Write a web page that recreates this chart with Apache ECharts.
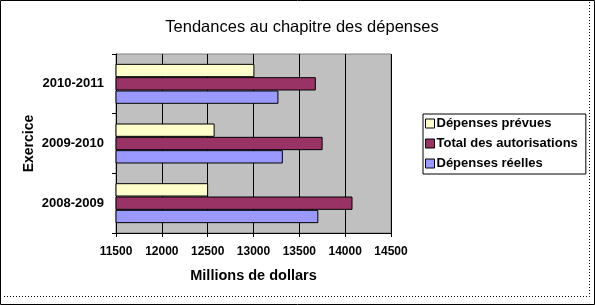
<!DOCTYPE html>
<html>
<head>
<meta charset="utf-8">
<script src="https://cdn.jsdelivr.net/npm/echarts@6/dist/echarts.min.js"></script>
<style>
  html, body { margin: 0; padding: 0; background: #fff; }
  #chart { width: 595px; height: 305px; }
</style>
</head>
<body>
<div id="chart"></div>
<script>
// données du graphique
var exercices = ['2008-2009', '2009-2010', '2010-2011'];
var depensesPrevues = [12505, 12576, 13010];
var totalAutorisations = [14080, 13754, 13680];
var depensesReelles = [13707, 13320, 13272];
var xTicks = [11500, 12000, 12500, 13000, 13500, 14000, 14500];

var myChart = echarts.init(document.getElementById('chart'));
var police = '"Liberation Sans", Arial, sans-serif';

var option = {
    backgroundColor: '#ffffff',
    animation: false,
    title: {
        text: 'Tendances au chapitre des dépenses',
        left: 297,
        top: 14,
        textAlign: 'center',
        textStyle: { fontFamily: police, fontSize: 16.5, fontWeight: 'normal', color: '#000' }
    },
    legend: {
        orient: 'vertical',
        left: 423,
        top: 114,
        padding: [3, 8, 4, 2],
        itemGap: 7,
        itemWidth: 9,
        itemHeight: 9,
        borderColor: '#000',
        borderWidth: 1,
        borderRadius: 0,
        icon: 'rect',
        data: ['Dépenses prévues', 'Total des autorisations', 'Dépenses réelles'],
        textStyle: { fontFamily: police, fontSize: 13, fontWeight: 'bold', color: '#000', padding: [0, 0, 0, -3] },
        itemStyle: { borderColor: '#000', borderWidth: 1 }
    },
    grid: {
        left: 116,
        top: 54,
        width: 275,
        height: 179,
        show: true,
        backgroundColor: '#c0c0c0',
        borderColor: '#808080',
        borderWidth: 1
    },
    xAxis: {
        type: 'value',
        min: xTicks[0],
        max: xTicks[xTicks.length - 1],
        interval: 500,
        name: 'Millions de dollars',
        nameLocation: 'middle',
        nameGap: 35,
        nameTextStyle: { fontFamily: police, fontSize: 14.5, fontWeight: 'bold', color: '#000' },
        axisLine: { show: true, lineStyle: { color: '#000', width: 1 } },
        axisTick: { show: true, length: 4, lineStyle: { color: '#000' } },
        axisLabel: {
            fontFamily: police, fontSize: 12, fontWeight: 'bold', color: '#000', margin: 13,
            formatter: function (v) { return String(v); }
        },
        splitLine: { show: true, lineStyle: { color: '#000', width: 1 } }
    },
    yAxis: {
        type: 'category',
        data: exercices,
        name: 'Exercice',
        nameLocation: 'middle',
        nameGap: 80,
        nameRotate: 90,
        nameTextStyle: { fontFamily: police, fontSize: 14, fontWeight: 'bold', color: '#000' },
        axisLine: { show: true, lineStyle: { color: '#000', width: 1 } },
        axisTick: { show: true, length: 4, inside: false, lineStyle: { color: '#000' } },
        axisLabel: { fontFamily: police, fontSize: 13, fontWeight: 'bold', color: '#000', margin: 12 },
        splitLine: { show: false }
    },
    series: [
        {
            name: 'Dépenses prévues',
            type: 'bar',
            data: depensesPrevues,
            barGap: '0%',
            barCategoryGap: '33%',
            itemStyle: { color: '#ffffcc', borderColor: '#000', borderWidth: 1 }
        },
        {
            name: 'Total des autorisations',
            type: 'bar',
            data: totalAutorisations,
            itemStyle: { color: '#993366', borderColor: '#000', borderWidth: 1 }
        },
        {
            name: 'Dépenses réelles',
            type: 'bar',
            data: depensesReelles,
            itemStyle: { color: '#9999ff', borderColor: '#000', borderWidth: 1 }
        }
    ],
    graphic: [
        {
            type: 'rect',
            shape: { x: 0.5, y: 0.5, width: 594, height: 304 },
            style: { fill: null, stroke: '#000', lineWidth: 1 },
            silent: true
        },
        {
            type: 'polyline',
            shape: { points: [[589.5, 2], [589.5, 296.5], [2, 296.5]] },
            style: { fill: null, stroke: '#000', lineWidth: 1, lineDash: [1, 2] },
            silent: true
        }
    ]
};

myChart.setOption(option);
</script>
</body>
</html>
